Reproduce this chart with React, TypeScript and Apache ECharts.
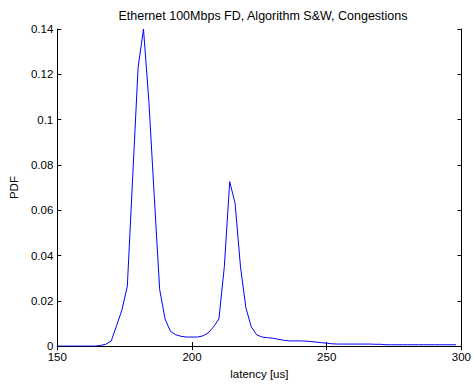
import React, { useEffect, useRef } from "react";
import * as echarts from "echarts";

const titleText = "Ethernet 100Mbps FD, Algorithm S&W, Congestions";
const xLabel = "latency [us]";
const yLabel = "PDF";

const latency = [
  150, 152, 154, 156, 158, 160, 162, 164, 166, 168, 170, 172, 174, 176, 178, 180,
  182, 184, 186, 188, 190, 192, 194, 196, 198, 200, 202, 204, 206, 208, 210, 212,
  214, 216, 218, 220, 222, 224, 226, 228, 230, 232, 234, 236, 238, 240, 242, 244,
  246, 248, 250, 252, 254, 256, 258, 260, 262, 264, 266, 268, 270, 272, 274, 276,
  278, 280, 282, 284, 286, 288, 290, 292, 294, 296, 298,
];
const pdf = [
  0, 0, 0, 0, 0, 0, 0, 0, 0.0003, 0.0008, 0.0022, 0.009, 0.016, 0.0265, 0.075, 0.123,
  0.14, 0.108, 0.066, 0.025, 0.012, 0.0065, 0.005, 0.0043, 0.004, 0.004, 0.004, 0.0045, 0.0058, 0.0085, 0.012, 0.035,
  0.0726, 0.063, 0.035, 0.017, 0.0085, 0.005, 0.004, 0.0037, 0.0035, 0.003, 0.0026, 0.0023, 0.0023, 0.0023, 0.0022, 0.002,
  0.0018, 0.0015, 0.0013, 0.001, 0.0009, 0.0009, 0.0009, 0.0009, 0.0009, 0.0009, 0.0009, 0.0008, 0.0008, 0.0006, 0.0006, 0.0006,
  0.0006, 0.0006, 0.0006, 0.0006, 0.0006, 0.0006, 0.0006, 0.0006, 0.0006, 0.0006, 0.0006,
];

export default function App() {
  const ref = useRef<HTMLDivElement>(null);
  useEffect(() => {
    document.body.style.margin = "0";
    const chart = echarts.init(ref.current!, undefined, { renderer: "svg" });
    const font = "Liberation Sans, Arial, sans-serif";
    const lineStyle = { color: "#000", width: 1 };
    const tick = { show: true, inside: true, length: 4, lineStyle };
    chart.setOption({
      animation: false,
      backgroundColor: "#fff",
      title: {
        text: titleText,
        left: 258,
        top: 4,
        textAlign: "center",
        textStyle: { fontFamily: font, fontSize: 12.5, fontWeight: "normal", color: "#000" },
      },
      grid: { left: 54, right: 10, top: 29, bottom: 34, containLabel: false },
      xAxis: [
        {
          type: "value",
          min: 150,
          max: 300,
          interval: 50,
          name: xLabel,
          nameLocation: "middle",
          nameGap: 20,
          nameTextStyle: { fontFamily: font, fontSize: 11.5, color: "#000" },
          axisLine: { show: true, lineStyle },
          axisTick: tick,
          axisLabel: { fontFamily: font, fontSize: 11.5, color: "#000", margin: 5 },
          splitLine: { show: false },
        },
        {
          type: "value",
          position: "top",
          min: 150,
          max: 300,
          interval: 50,
          axisLine: { show: true, lineStyle },
          axisTick: tick,
          axisLabel: { show: false },
          splitLine: { show: false },
        },
      ],
      yAxis: [
        {
          type: "value",
          min: 0,
          max: 0.14,
          interval: 0.02,
          name: yLabel,
          nameLocation: "middle",
          nameGap: 37,
          nameTextStyle: { fontFamily: font, fontSize: 11.5, color: "#000" },
          axisLine: { show: true, lineStyle },
          axisTick: tick,
          axisLabel: {
            fontFamily: font,
            fontSize: 11.5,
            color: "#000",
            margin: 4,
            formatter: (v: number) => String(+v.toFixed(2)),
          },
          splitLine: { show: false },
        },
        {
          type: "value",
          position: "right",
          min: 0,
          max: 0.14,
          interval: 0.02,
          axisLine: { show: true, lineStyle },
          axisTick: tick,
          axisLabel: { show: false },
          splitLine: { show: false },
        },
      ],
      series: [
        {
          type: "line",
          xAxisIndex: 0,
          yAxisIndex: 0,
          data: latency.map((x, i) => [x, pdf[i]]),
          showSymbol: false,
          lineStyle: { color: "#0000ff", width: 1 },
        },
      ],
    });
    return () => chart.dispose();
  }, []);
  return <div ref={ref} style={{ width: 474, height: 385 }} />;
}
